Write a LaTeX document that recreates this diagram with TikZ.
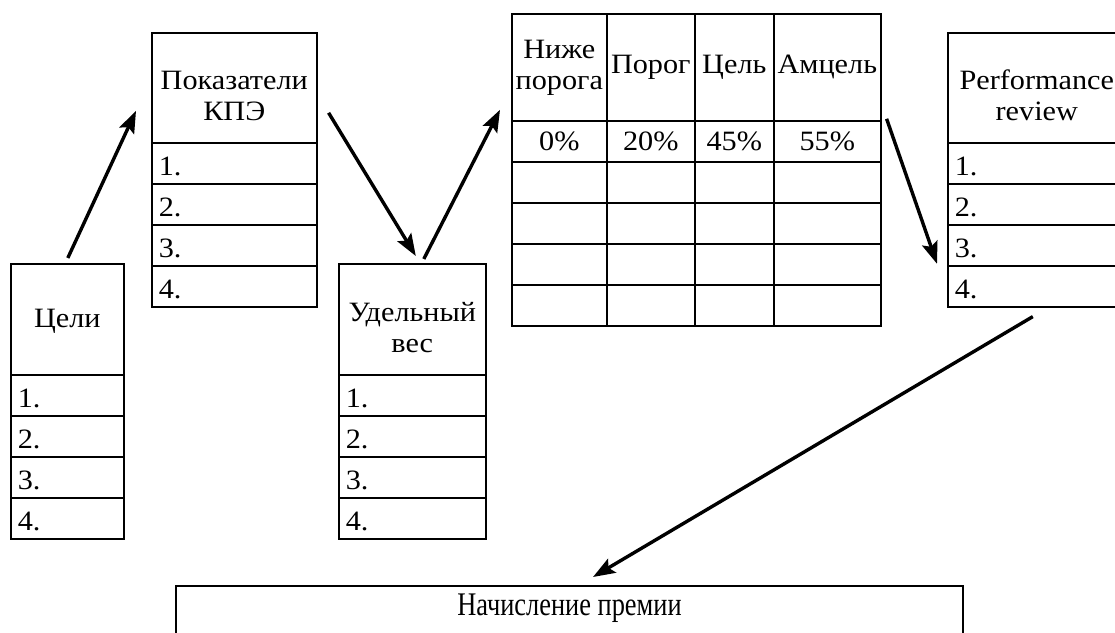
\documentclass[tikz,border=0pt]{standalone}
\usepackage{fontspec}
\setmainfont{Liberation Serif}[FakeStretch=1.08]
\newfontfamily\bonusfont[FakeStretch=0.8]{Liberation Serif}
\usetikzlibrary{arrows.meta,calc}
\newcommand\hdrtext[2][-11pt]{\raisebox{#1}[\height][\depth]{\begin{tabular}{@{}c@{}}#2\end{tabular}}}
\newcommand\rowtxt[1]{\raisebox{-3.5pt}[\height][\depth]{#1}}
\begin{document}
\begin{tikzpicture}[x=1pt,y=-1pt,
  box/.style={draw, line width=1.6pt, rectangle, inner sep=0pt, anchor=north west,
    font=\fontsize{28}{31}\selectfont},
  hdr/.style={box, align=center},
  row/.style={box, text width=#1, align=left, inner xsep=7pt, minimum height=41pt},
  cell/.style={box, align=center},
  arr/.style={line width=3.4pt, -{Stealth[length=22pt,width=16pt,inset=4pt]}},
]
\useasboundingbox (0,0) rectangle (1115,632);
\clip (0,0) rectangle (1115,632);

% Цели
\node[hdr, minimum width=113pt, minimum height=111pt] (gH) at (10,263) {\hdrtext[-2pt]{Цели}};
\node[row=99pt] (g1) at (10,374) {\rowtxt{1.}};
\node[row=99pt] (g2) at (10,415) {\rowtxt{2.}};
\node[row=99pt] (g3) at (10,456) {\rowtxt{3.}};
\node[row=99pt] (g4) at (10,497) {\rowtxt{4.}};

% Показатели КПЭ
\node[hdr, minimum width=165pt, minimum height=110pt] (kH) at (151,32) {\hdrtext{Показатели\\КПЭ}};
\node[row=151pt] (k1) at (151,142) {\rowtxt{1.}};
\node[row=151pt] (k2) at (151,183) {\rowtxt{2.}};
\node[row=151pt] (k3) at (151,224) {\rowtxt{3.}};
\node[row=151pt] (k4) at (151,265) {\rowtxt{4.}};

% Удельный вес
\node[hdr, minimum width=147pt, minimum height=111pt] (wH) at (338,263) {\hdrtext{Удельный\\вес}};
\node[row=133pt] (w1) at (338,374) {\rowtxt{1.}};
\node[row=133pt] (w2) at (338,415) {\rowtxt{2.}};
\node[row=133pt] (w3) at (338,456) {\rowtxt{3.}};
\node[row=133pt] (w4) at (338,497) {\rowtxt{4.}};

% Table
\node[cell, minimum width=95pt, minimum height=107pt] (t11) at (511,13) {\hdrtext[0pt]{Ниже\\порога}};
\node[cell, minimum width=88pt, minimum height=107pt] (t12) at (606,13) {Порог};
\node[cell, minimum width=79pt, minimum height=107pt] (t13) at (694,13) {Цель};
\node[cell, minimum width=107pt, minimum height=107pt] (t14) at (773,13) {Амцель};
\node[cell, minimum width=95pt, minimum height=41pt] (t21) at (511,120) {0\%};
\node[cell, minimum width=88pt, minimum height=41pt] (t22) at (606,120) {20\%};
\node[cell, minimum width=79pt, minimum height=41pt] (t23) at (694,120) {45\%};
\node[cell, minimum width=107pt, minimum height=41pt] (t24) at (773,120) {55\%};
\foreach \r/\y in {3/161,4/202,5/243,6/284}{
  \node[cell, minimum width=95pt, minimum height=41pt] (t\r1) at (511,\y) {};
  \node[cell, minimum width=88pt, minimum height=41pt] (t\r2) at (606,\y) {};
  \node[cell, minimum width=79pt, minimum height=41pt] (t\r3) at (694,\y) {};
  \node[cell, minimum width=107pt, minimum height=41pt] (t\r4) at (773,\y) {};
}

% Performance review
\node[hdr, minimum width=178pt, minimum height=110pt] (pH) at (947,32) {\hdrtext{Performance\\review}};
\node[row=164pt] (p1) at (947,142) {\rowtxt{1.}};
\node[row=164pt] (p2) at (947,183) {\rowtxt{2.}};
\node[row=164pt] (p3) at (947,224) {\rowtxt{3.}};
\node[row=164pt] (p4) at (947,265) {\rowtxt{4.}};

% Начисление премии
\node[box, anchor=north, minimum width=787pt, text height=30pt, text depth=71pt,
  font=\bonusfont\fontsize{33}{34}\selectfont] (bonus) at (569.5,585) {Начисление премии};

% Arrows
\draw[arr] ($(gH.north)+(0.5,-5)$) -- ($(kH.west)+(-15,23)$);
\draw[arr] ($(kH.east)+(11,25)$) -- ($(wH.north)+(3.5,-7)$);
\draw[arr] ($(wH.north)+(11.5,-4)$) -- ($(t11.west)+(-11,42.5)$);
\draw[arr] ($(t14.east)+(5,51.5)$) -- ($(p3.west)+(-10,18.5)$);
\draw[arr] ($(p4.south)+(-4,9)$) -- ($(bonus.north)+(23.5,-8)$);
\end{tikzpicture}
\end{document}
